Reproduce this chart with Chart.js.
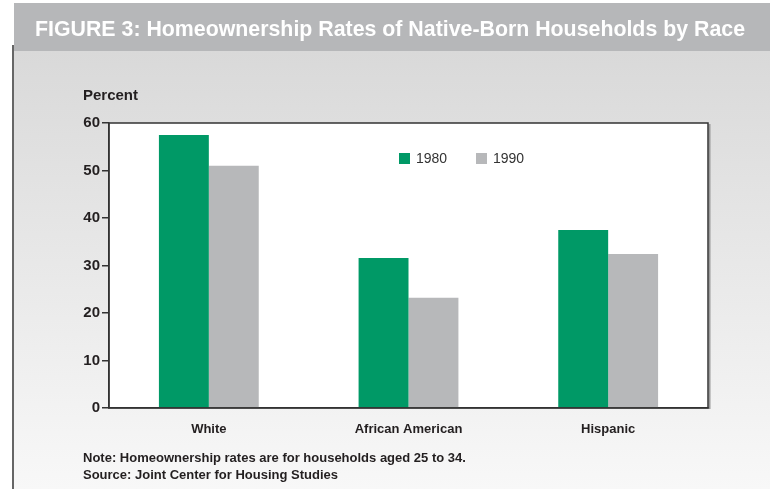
<!DOCTYPE html>
<html>
<head>
<meta charset="utf-8">
<script src="https://cdn.jsdelivr.net/npm/chart.js@4"></script>
<style>
  html, body { margin: 0; padding: 0; background: #fff; }
  #wrap { width: 770px; height: 489px; }
</style>
</head>
<body>
<div id="wrap"><canvas id="grafico" width="770" height="489"></canvas></div>
<script>
// Datos
const categorias = ['White', 'African American', 'Hispanic'];
const series = ['1980', '1990'];
const valores1980 = [57.5, 31.6, 37.5];
const valores1990 = [51.0, 23.2, 32.4];
const ticksY = [0, 10, 20, 30, 40, 50, 60];

const titulo = 'FIGURE 3: Homeownership Rates of Native-Born Households by Race';
const etiquetaY = 'Percent';
const notas = [
    'Note: Homeownership rates are for households aged 25 to 34.',
    'Source: Joint Center for Housing Studies'
];

const VERDE = '#009966';
const GRIS = '#b7b8ba';
const TEXTO = '#231f20';
const FUENTE = '"Liberation Sans", Arial, sans-serif';

// Fondo, barra de título, notas
const fondoPlugin = {
    id: 'fondo',
    beforeDraw(chart) {
        const ctx = chart.ctx;
        const w = chart.width, h = chart.height;
        ctx.save();
        ctx.fillStyle = '#ffffff';
        ctx.fillRect(0, 0, w, h);
        const grad = ctx.createLinearGradient(0, 51, 0, h);
        grad.addColorStop(0, '#d9d9d9');
        grad.addColorStop(1, '#f8f8f8');
        ctx.fillStyle = grad;
        ctx.fillRect(14, 51, w - 14, h - 51);
        // barra del título
        ctx.fillStyle = '#b6b7b9';
        ctx.fillRect(14, 3, w - 14, 48);
        ctx.fillStyle = '#ffffff';
        ctx.font = 'bold 21.4px ' + FUENTE;
        ctx.textBaseline = 'alphabetic';
        ctx.fillText(titulo, 35, 36, 710);
        // línea izquierda
        ctx.strokeStyle = '#333333';
        ctx.lineWidth = 1.5;
        ctx.beginPath();
        ctx.moveTo(13, 45);
        ctx.lineTo(13, h);
        ctx.stroke();
        // "Percent"
        ctx.fillStyle = TEXTO;
        ctx.font = 'bold 15px ' + FUENTE;
        ctx.fillText(etiquetaY, 83, 100);
        // notas
        ctx.font = 'bold 13px ' + FUENTE;
        notas.forEach((t, i) => ctx.fillText(t, 83, 462 + i * 17));
        // área del gráfico en blanco
        const a = chart.chartArea;
        ctx.fillStyle = '#ffffff';
        ctx.fillRect(a.left, a.top, a.right - a.left, a.bottom - a.top);
        ctx.restore();
    },
    afterDraw(chart) {
        const ctx = chart.ctx;
        const a = chart.chartArea;
        ctx.save();
        // sombra a la derecha
        ctx.strokeStyle = '#9a9a9a';
        ctx.lineWidth = 2;
        ctx.beginPath();
        ctx.moveTo(a.right + 1.5, a.top + 1);
        ctx.lineTo(a.right + 1.5, a.bottom + 1);
        ctx.stroke();
        // borde
        ctx.strokeStyle = '#333333';
        ctx.lineWidth = 1.5;
        ctx.strokeRect(a.left, a.top, a.right - a.left, a.bottom - a.top);
        // leyenda dentro del gráfico
        ctx.font = '14px ' + FUENTE;
        ctx.textBaseline = 'middle';
        chart.data.datasets.forEach((ds, i) => {
            const x = a.left + 290 + i * 77;
            const y = a.top + 30;
            ctx.fillStyle = ds.backgroundColor;
            ctx.fillRect(x, y, 11, 11);
            ctx.fillStyle = '#333333';
            ctx.fillText(ds.label, x + 17, y + 6);
        });
        ctx.restore();
    }
};

const grafico = new Chart(document.getElementById('grafico'), {
    type: 'bar',
    data: {
        labels: categorias,
        datasets: [
            { label: series[0], data: valores1980, backgroundColor: VERDE },
            { label: series[1], data: valores1990, backgroundColor: GRIS }
        ]
    },
    options: {
        responsive: false,
        animation: false,
        categoryPercentage: 0.5,
        barPercentage: 1.0,
        layout: { padding: { left: 0, right: 62, top: 123, bottom: 0 } },
        plugins: {
            legend: { display: false },
            tooltip: { enabled: false }
        },
        scales: {
            x: {
                grid: { display: false },
                border: { display: true, color: '#333333', width: 1.5 },
                ticks: {
                    color: TEXTO,
                    padding: 6,
                    font: { family: FUENTE, size: 13, weight: 'bold' }
                },
                afterFit(scale) { scale.height = 81; }
            },
            y: {
                min: ticksY[0],
                max: ticksY[ticksY.length - 1],
                afterBuildTicks(scale) { scale.ticks = ticksY.map(v => ({ value: v })); },
                grid: { drawOnChartArea: false, tickLength: 7, color: '#333333', lineWidth: 1.5 },
                border: { display: true, color: '#333333', width: 1.5 },
                ticks: {
                    color: TEXTO,
                    padding: 2,
                    font: { family: FUENTE, size: 15, weight: 'bold' }
                },
                afterFit(scale) { scale.width = 109; }
            }
        }
    },
    plugins: [fondoPlugin]
});
</script>
</body>
</html>
